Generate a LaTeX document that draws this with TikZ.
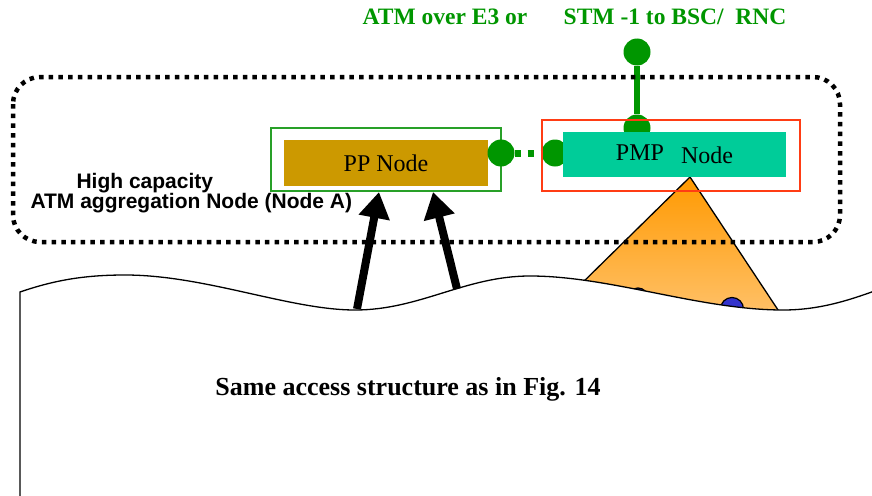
\documentclass[tikz,border=0pt]{standalone}
\usepackage{fontspec}
\setmainfont{Liberation Serif}
\newfontfamily\arialfont{Liberation Sans}
\usetikzlibrary{arrows.meta}
\definecolor{dgreen}{RGB}{0,150,0}
\definecolor{boxgreen}{RGB}{40,160,40}
\definecolor{gold}{RGB}{204,153,0}
\definecolor{teal}{RGB}{0,204,153}
\definecolor{redline}{RGB}{255,60,20}
\definecolor{orangetop}{RGB}{255,153,0}
\definecolor{orangebot}{RGB}{255,195,110}
\definecolor{bluedot}{RGB}{51,51,204}
\tikzset{
  outerbox/.style={draw, line width=1.5pt, fill=none, inner sep=0pt},
  innerbox/.style={inner sep=0pt, font=\fontsize{24}{28}\selectfont},
  gdot/.style={circle, fill=dgreen, inner sep=0pt, minimum size=27pt},
  thickarrow/.style={line width=8pt, -{Triangle[length=26pt,width=30pt]}},
  greentext/.style={text=dgreen, font=\bfseries\fontsize{23.5}{28}\selectfont, anchor=base},
  sidetext/.style={font=\arialfont\bfseries\fontsize{21}{24}\selectfont, anchor=base west},
}
\begin{document}
\begin{tikzpicture}[x=1pt,y=-1pt]
\useasboundingbox (0,0) rectangle (872,495);
\clip (0,0) rectangle (872,495);
% triangle
\shadedraw[top color=orangetop, bottom color=orangebot, draw=black, line width=1.3pt]
  (690,177) -- (577,288) -- (786,322) -- cycle;
% blue bumps
\filldraw[fill=bluedot, draw=black, line width=1.2pt] (638,298) circle (10);
\filldraw[fill=bluedot, draw=black, line width=1.2pt] (732,309) circle (11.5);
% wavy access area
\filldraw[fill=white, draw=black, line width=1.3pt]
  (20,520) -- (20,292) .. controls (55,280) and (85,275) .. (125,275)
  .. controls (205,275) and (290,310) .. (355,310)
  .. controls (420,310) and (465,276) .. (530,276)
  .. controls (610,276) and (700,310) .. (783,310)
  .. controls (820,310) and (850,300) .. (880,289) -- (880,520) -- cycle;
% PP node
\node[outerbox, draw=boxgreen, minimum width=230pt, minimum height=63pt] (ppo) at (386,159.5) {};
\node[innerbox, fill=gold, minimum width=204pt, minimum height=46pt] (pp) at (386,163) {PP Node};
% arrows
\coordinate (a1s) at (357,309);
\coordinate (a1e) at (379,192);
\coordinate (a2s) at (457,289);
\coordinate (a2e) at (433,192);
\draw[thickarrow] (a1s) -- (a1e);
\draw[thickarrow] (a2s) -- (a2e);
% green dots and links
\node[gdot] (dl) at (501,153) {};
\node[gdot] (dr) at (555,153) {};
\node[gdot] (dt) at (637,52) {};
\node[gdot] (db) at (637,128) {};
\draw[dgreen, line width=7pt, dash pattern=on 6pt off 7pt] (dl.east) -- (dr.west);
\draw[dgreen, line width=6.5pt] (dt) -- (db);
% PMP node
\node[innerbox, fill=teal, minimum width=223pt, minimum height=45pt] (pmp) at (674.5,154.5) {PMP\hspace{17pt}\raisebox{-3pt}{Node}};
\node[outerbox, draw=redline, minimum width=258pt, minimum height=71pt] (pmpo) at (671,155.5) {};
% dotted aggregation boundary
\draw[line width=4.5pt, dash pattern=on 4.5pt off 5.2pt, rounded corners=27pt] (13,77) rectangle (840,242);
% texts
\node[greentext] (t1) at (445,25) {ATM over E3 or};
\node[greentext] (t2) at (675,25) {STM -1 to BSC/\ \ RNC};
\node[sidetext] (s1) at (73,188) {High capacity};
\node[sidetext] (s2) at (27,208) {ATM aggregation Node (Node A)};
\node[font=\bfseries\fontsize{26}{30}\selectfont, anchor=base] (same) at (408,395) {Same access structure as in Fig. 14};
\end{tikzpicture}
\end{document}
